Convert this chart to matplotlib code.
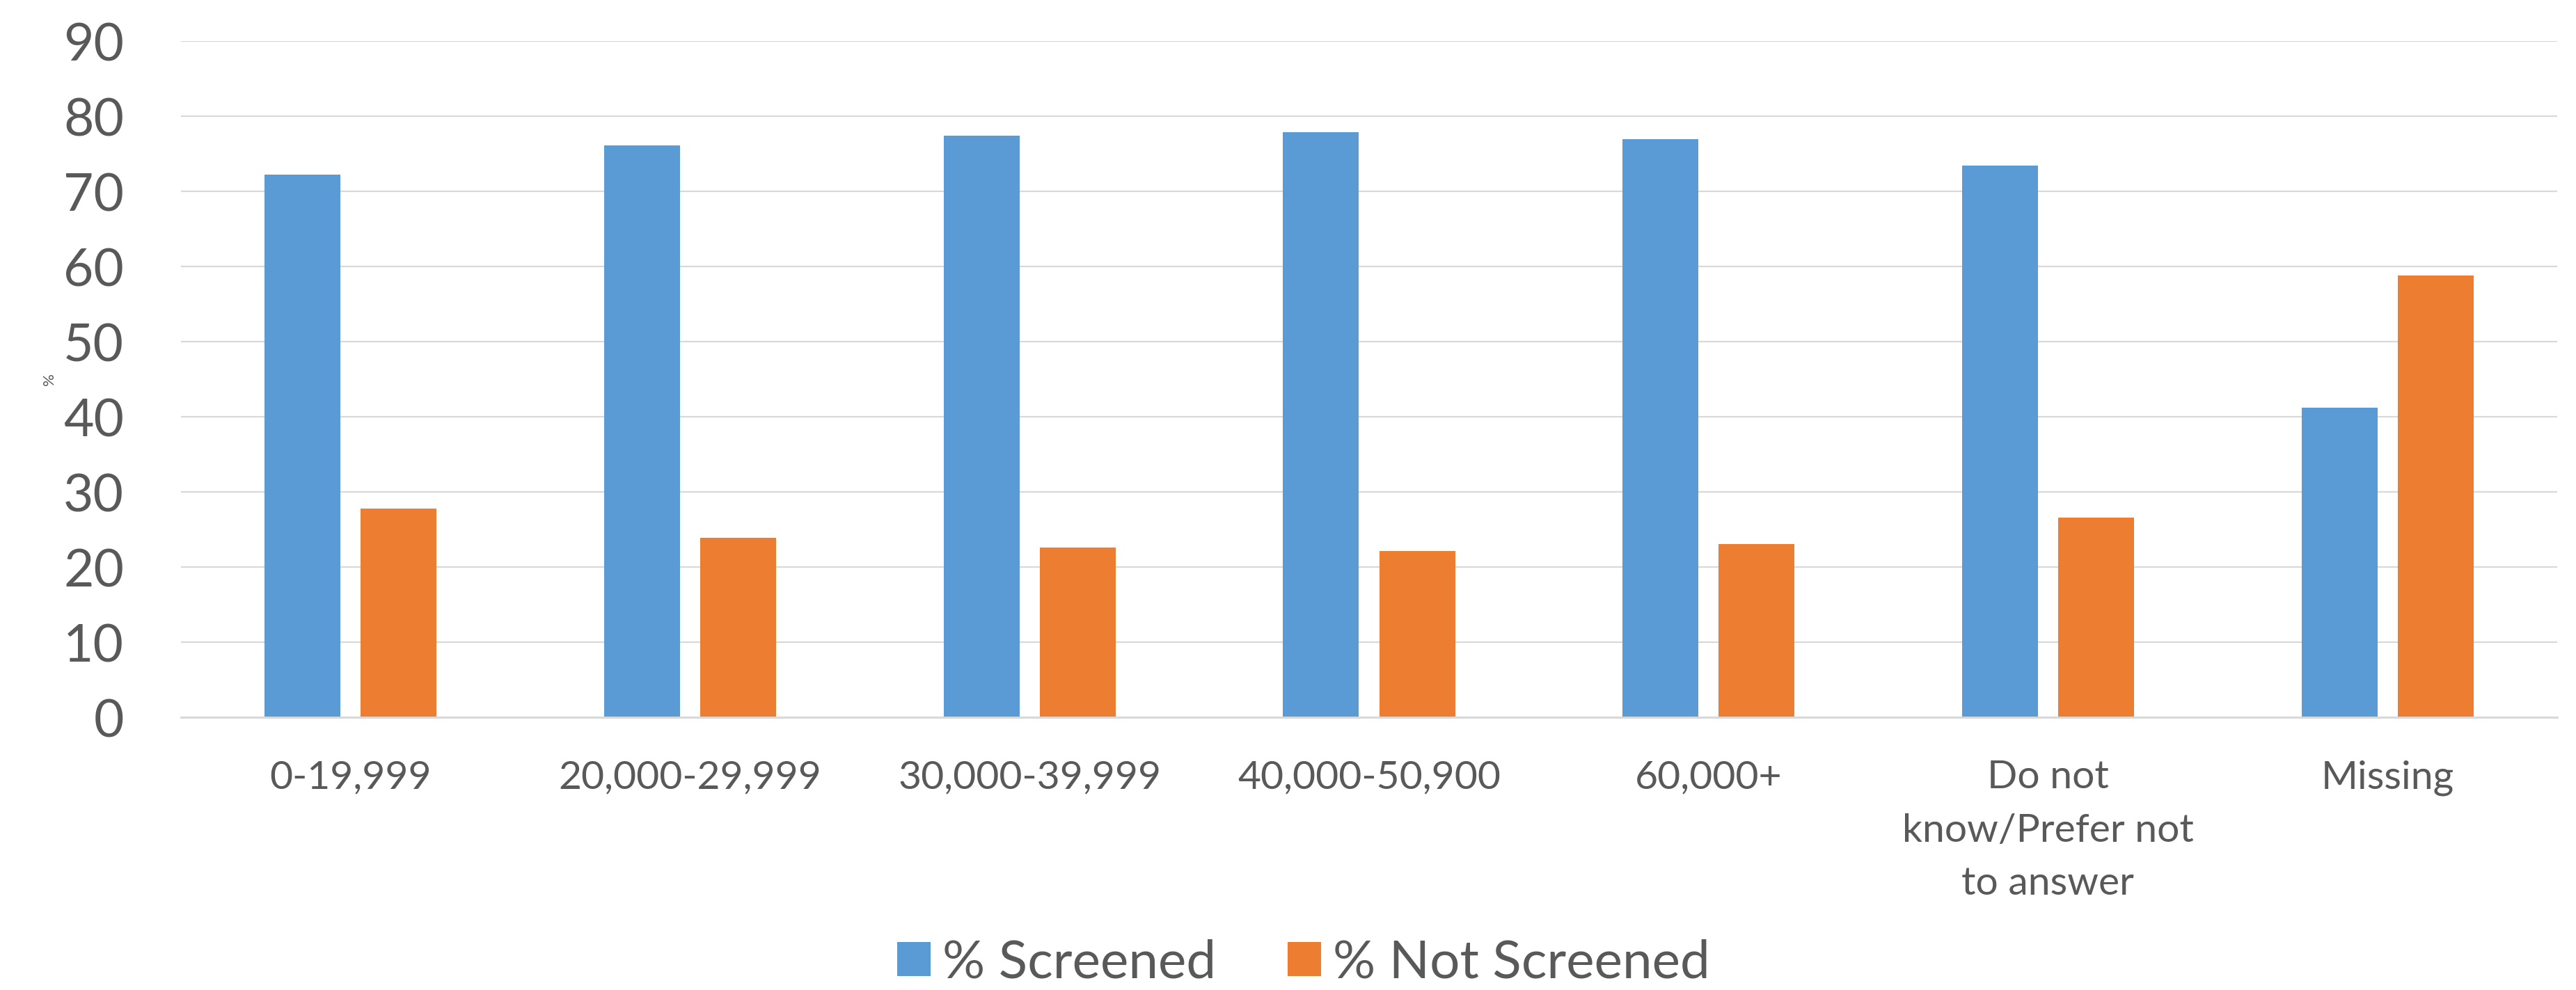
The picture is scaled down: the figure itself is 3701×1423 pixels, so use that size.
import matplotlib
matplotlib.use('Agg')
import matplotlib.pyplot as plt
import numpy as np

# //--------------------------< data >--------------------------\\

categories = ['0-19,999', '20,000-29,999', '30,000-39,999', '40,000-50,900',
              '60,000+', 'Do not\nknow/Prefer not\nto answer', 'Missing']
screened = [72.2, 76.1, 77.4, 77.9, 76.9, 73.4, 41.2]
not_screened = [27.8, 23.9, 22.6, 22.1, 23.1, 26.6, 58.8]
y_ticks = [0, 10, 20, 30, 40, 50, 60, 70, 80, 90]

# //--------------------------< style >--------------------------\\

plt.rcParams['font.family'] = ['Lato', 'DejaVu Sans']
text_col = '#595959'
grid_col = '#D9D9D9'
blue = '#5B9BD5'
orange = '#ED7D31'

W, H = 3701, 1423
fig = plt.figure(figsize=(W / 100, H / 100), dpi=100)
ax = fig.add_axes([260 / W, 1 - 1031 / H, (3674 - 260) / W, (1031 - 59) / H])

# //--------------------------< bars >--------------------------\\

x = np.arange(len(categories))
width = 0.2235
off = 0.1417
ax.bar(x - off, screened, width=width, color=blue, label='% Screened', zorder=3)
ax.bar(x + off, not_screened, width=width, color=orange, label='% Not Screened', zorder=3)

ax.set_xlim(-0.5, len(categories) - 0.5)
ax.set_ylim(0, 90)
ax.set_yticks(y_ticks)
ax.set_xticks(x)
ax.set_xticklabels(categories, fontsize=41, color=text_col, linespacing=1.62,
                   multialignment='center')
ax.tick_params(axis='x', length=0, pad=44)
ax.tick_params(axis='y', length=0, pad=59, labelsize=54, labelcolor=text_col)

ax.grid(axis='y', color=grid_col, linewidth=1.6, zorder=0)
ax.set_axisbelow(True)
for s in ['top', 'right', 'left']:
    ax.spines[s].set_visible(False)
ax.spines['bottom'].set_color(grid_col)
ax.spines['bottom'].set_linewidth(2.2)
ax.spines['bottom'].set_zorder(4)

fig.text(71 / W, 1 - 545 / H, '%', rotation=90, fontsize=16, color=text_col,
         ha='center', va='center')

# //--------------------------< legend >--------------------------\\

leg = fig.legend(loc='center', bbox_to_anchor=(1873 / W, 1 - 1384 / H), ncol=2,
                 frameon=False, fontsize=55, handlelength=0.63, handleheight=0.62,
                 handletextpad=0.22, columnspacing=1.35, borderpad=0)
for t in leg.get_texts():
    t.set_color(text_col)

fig.savefig('out.png', dpi=100)
